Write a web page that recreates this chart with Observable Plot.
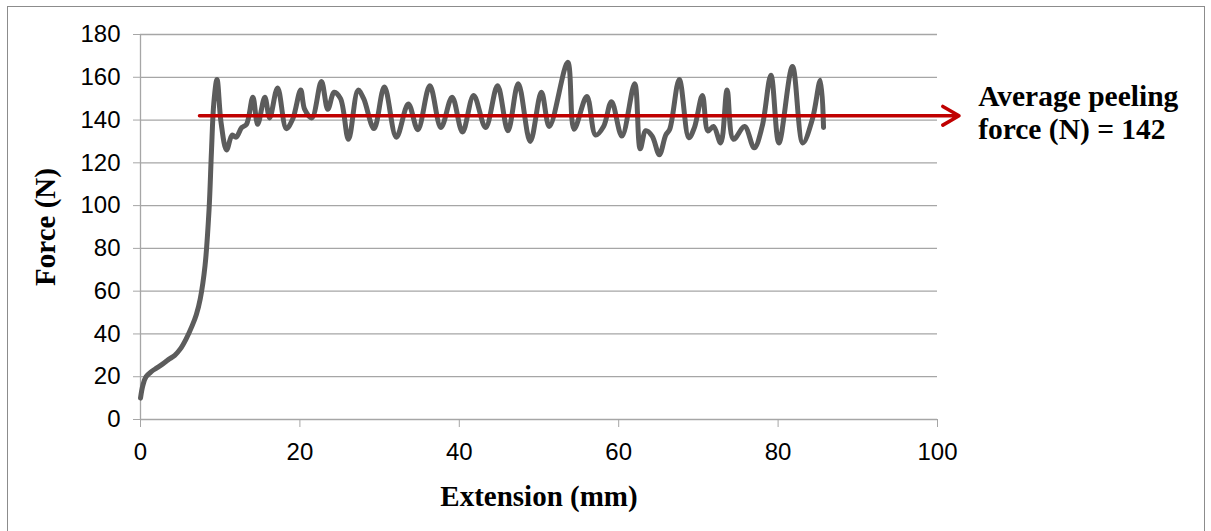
<!DOCTYPE html>
<html><head><meta charset="utf-8">
<script src="https://cdn.jsdelivr.net/npm/d3@7"></script>
<script src="https://cdn.jsdelivr.net/npm/@observablehq/plot@0.6"></script>
<style>
body{margin:0;background:#fff;overflow:hidden;width:1211px;height:531px;position:relative}
#frame{position:absolute;left:7px;top:6px;width:1196px;height:560px;border:1.5px solid #8c8c8c;pointer-events:none}
#chart{position:absolute;left:0;top:0}
svg g[aria-label="y-axis label"], svg g[aria-label="x-axis label"]{font-family:"Liberation Serif",serif;font-weight:bold;font-size:29px}
svg g[aria-label="y-axis tick label"], svg g[aria-label="x-axis tick label"]{font-family:"Liberation Sans",sans-serif;font-size:24px}
</style></head><body><div id="chart"></div><div id="frame"></div>
<script>
const extension = [0,0.3,0.7,1.4,2.0,2.8,3.5,4.3,5.0,5.7,6.5,7.0,7.5,8.1,8.6,8.9,9.2,9.6,10.1,10.8,11.5,12,12.7,13.3,14.1,14.7,15.6,16.2,17.2,18.3,19.1,20.1,20.6,21.5,22.7,23.5,24.3,25.1,26.1,27.3,28,29.3,30.6,32.1,33.6,34.8,36.3,37.7,39.1,40.4,41.8,43.3,44.8,46.1,47.4,48.9,50.3,51.3,53.6,54.4,56,57.1,58.1,59.1,60.4,62,62.7,63.4,64.2,65.1,65.9,66.4,67.6,68.8,69.5,70.5,71.2,71.9,72.8,73.6,74.4,75.8,77,78,79.1,80.1,81.8,83.1,84.3,85.3,85.7];
const force = [10,16,20,22.5,24,26,28,30,33,37.5,44,49,56.5,72,98,125,148,159,139,126,133,132,136.5,138,150.7,138,150.7,141,155,136,140.5,154,145,141,158,145,153,150,131,154,150,136,155.5,132,147.5,135.5,156,136.5,150.7,134.4,151.5,136.5,156,135,157,130,153,137,167,135.7,151,133,137,148.6,132.5,157,126.6,135,132.5,123.8,133,135.7,159,131.7,136.5,151.5,134.9,137,129.3,154,131,137,127,137,161,129.3,165,129.3,140.4,158.6,136.5];
const yTicks = [0,20,40,60,80,100,120,140,160,180];
const xTicks = [0,20,40,60,80,100];
const averageForce = 142;
const arrowStart = 7.4, arrowEnd = 102.7;
const annotationX = 105.1;
const annotationText = "Average peeling\nforce (N) = 142";

const data = extension.map((x, i) => ({x, y: force[i]}));

const chart = Plot.plot({
  width: 1211, height: 531,
  marginLeft: 140, marginRight: 274, marginTop: 34, marginBottom: 112,
  style: {background: "transparent", color: "#000", overflow: "visible"},
  x: {domain: [0, 100]},
  y: {domain: [0, 180]},
  marks: [
    Plot.gridY(yTicks, {stroke: "#a6a6a6", strokeOpacity: 1, strokeWidth: 1.3}),
    Plot.ruleX([0], {stroke: "#a6a6a6", strokeWidth: 1.3}),
    Plot.axisY(yTicks, {tickSize: 7, tickPadding: 13, stroke: "#a6a6a6", label: "Force (N)", labelAnchor: "center", labelOffset: 106, labelArrow: "none"}),
    Plot.axisX(xTicks, {tickSize: 8, tickPadding: 15, stroke: "#a6a6a6", label: "Extension (mm)", labelAnchor: "center", labelOffset: 86, labelArrow: "none"}),
    Plot.line(data, {x: "x", y: "y", stroke: "#5c5c5c", strokeWidth: 5, curve: "catmull-rom"}),
    Plot.arrow([{x1: arrowStart, x2: arrowEnd, y: averageForce}], {x1: "x1", x2: "x2", y1: "y", y2: "y", stroke: "#c00000", strokeWidth: 3.5, headLength: 8}),
    Plot.text([annotationText], {x: annotationX, y: averageForce, text: d => d, textAnchor: "start", lineAnchor: "middle", dy: -4, fontFamily: "Liberation Serif", fontWeight: "bold", fontSize: 29.5, lineHeight: 1.13, fill: "#000"})
  ]
});
document.getElementById("chart").appendChild(chart);
</script></body></html>
